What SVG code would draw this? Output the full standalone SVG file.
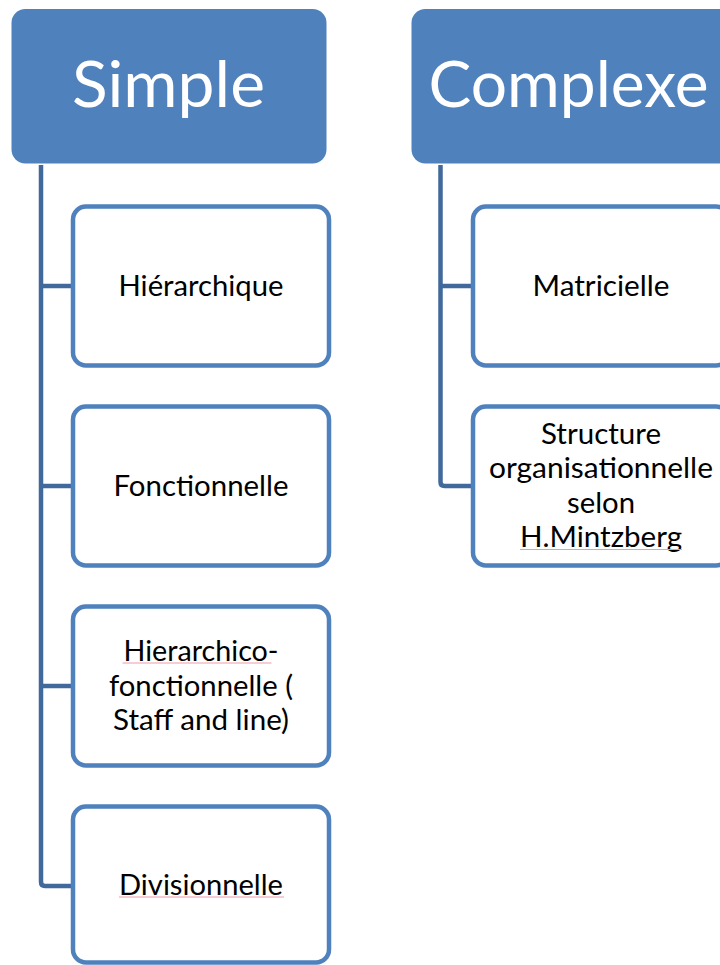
<svg xmlns="http://www.w3.org/2000/svg" width="720" height="965" viewBox="0 0 720 965">
  <style>
    .head { fill: #4F81BD; }
    .head-text { font-family: Lato, "Open Sans", sans-serif; font-size: 63px; fill: #FFFFFF; }
    .box { fill: #FFFFFF; stroke: #4F81BD; stroke-width: 4.5; }
    .label { font-family: Lato, "Open Sans", sans-serif; font-size: 28px; fill: #000000; text-anchor: middle; }
    .link { fill: none; stroke: #41699C; stroke-width: 4.5; stroke-linejoin: round; }
    .spell { stroke: #F09AA6; stroke-width: 1.2; fill: none; }
  </style>

  <!-- connectors -->
  <g id="connectors">
    <path class="link" d="M41 165 V882 Q41 886 45 886 H73"/>
    <path class="link" d="M41 286 H73"/>
    <path class="link" d="M41 486 H73"/>
    <path class="link" d="M41 686 H73"/>
    <path class="link" d="M440.5 165 V482 Q440.5 486 444.5 486 H473"/>
    <path class="link" d="M440.5 286 H473"/>
  </g>

  <!-- column headers -->
  <g id="simple">
    <rect class="head" x="11.5" y="9" width="315" height="154.5" rx="14"/>
    <text class="head-text" x="168.5" y="106.5" text-anchor="middle" textLength="193" lengthAdjust="spacingAndGlyphs">Simple</text>
  </g>
  <g id="complexe">
    <rect class="head" x="411.5" y="9" width="330" height="154.5" rx="14"/>
    <text class="head-text" x="428.5" y="106.5" textLength="280" lengthAdjust="spacingAndGlyphs">Complexe</text>
  </g>

  <!-- simple structures -->
  <g id="hierarchique">
    <rect class="box" x="73" y="206.5" width="256" height="159" rx="13"/>
    <text class="label" x="201" y="296" textLength="165" lengthAdjust="spacingAndGlyphs">Hiérarchique</text>
  </g>
  <g id="fonctionnelle">
    <rect class="box" x="73" y="406.5" width="256" height="159" rx="13"/>
    <text class="label" x="201" y="496" textLength="175" lengthAdjust="spacingAndGlyphs">Fonctionnelle</text>
  </g>
  <g id="hierarchico-fonctionnelle">
    <rect class="box" x="73" y="606.5" width="256" height="159" rx="13"/>
    <text class="label" x="201" y="661" textLength="155" lengthAdjust="spacingAndGlyphs">Hierarchico-</text>
    <path class="spell" d="M122.5 663 H271.5"/>
    <text class="label" x="201" y="695.5" textLength="184" lengthAdjust="spacingAndGlyphs">fonctionnelle (</text>
    <text class="label" x="201" y="730" textLength="176" lengthAdjust="spacingAndGlyphs">Staff and line)</text>
  </g>
  <g id="divisionnelle">
    <rect class="box" x="73" y="806.5" width="256" height="156" rx="13"/>
    <text class="label" x="201" y="895" textLength="164" lengthAdjust="spacingAndGlyphs">Divisionnelle</text>
    <path class="spell" d="M119 897 H284"/>
  </g>

  <!-- complex structures -->
  <g id="matricielle">
    <rect class="box" x="473" y="206.5" width="256" height="159" rx="13"/>
    <text class="label" x="601" y="296" textLength="137" lengthAdjust="spacingAndGlyphs">Matricielle</text>
  </g>
  <g id="mintzberg">
    <rect class="box" x="473" y="406.5" width="256" height="159" rx="13"/>
    <text class="label" x="601" y="443.5" textLength="120" lengthAdjust="spacingAndGlyphs">Structure</text>
    <text class="label" x="601" y="478" textLength="224" lengthAdjust="spacingAndGlyphs">organisationnelle</text>
    <text class="label" x="601" y="512.5" textLength="68" lengthAdjust="spacingAndGlyphs">selon</text>
    <text class="label" x="601" y="547" textLength="162" lengthAdjust="spacingAndGlyphs">H.Mintzberg</text>
    <path class="spell" d="M520 549.5 H682"/>
  </g>
</svg>
